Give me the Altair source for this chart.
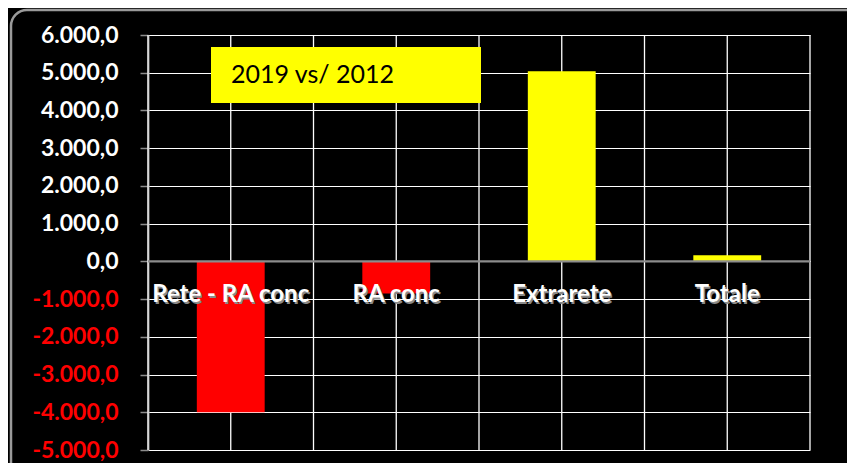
import altair as alt
import pandas as pd

categories = ["Rete - RA conc", "RA conc", "Extrarete", "Totale"]
values = [-4000, -850, 5040, 160]
bar_colors = ["#FF0000", "#FF0000", "#FFFF00", "#FFFF00"]
y_ticks = [-5000, -4000, -3000, -2000, -1000, 0, 1000, 2000, 3000, 4000, 5000, 6000]
title_text = ["2019 vs/ 2012"]

FONT = "Lato"

df = pd.DataFrame({"cat": categories, "value": values, "color": bar_colors})
grid_df = pd.DataFrame({"pos": [i * 0.5 for i in range(2 * len(categories) + 1)]})
box_df = pd.DataFrame({"label": title_text})

xband = alt.X("cat:N", sort=categories, axis=None,
              scale=alt.Scale(paddingInner=0.59, paddingOuter=0.295))

vgrid = alt.Chart(grid_df).mark_rule(color="white", strokeWidth=1.3).encode(
    x=alt.X("pos:Q", axis=None,
            scale=alt.Scale(domain=[0, len(categories)], nice=False, zero=False))
)

label_expr = ("replace(replace(replace(replace(format(datum.value, ',.1f'), '\u2212', '-'), ',', '#'), '.', ','), '#', '.')")

bars = alt.Chart(df).mark_bar().encode(
    x=xband,
    y=alt.Y("value:Q", title=None,
            scale=alt.Scale(domain=[-5000, 6000], nice=False, zero=False),
            axis=alt.Axis(values=y_ticks, tickCount=len(y_ticks) + 2,
                          grid=True, gridColor="white", gridWidth=1.2,
                          domainColor="#8c8c8c", domainWidth=2,
                          tickColor="#8c8c8c", tickWidth=1.5, tickSize=8,
                          labelPadding=22, labelFont=FONT, labelFontSize=23,
                          labelFontWeight="bold", labelExpr=label_expr,
                          labelOverlap=False,
                          labelColor=alt.ExprRef(expr="datum.value < 0 ? '#FF0000' : 'white'"))),
    color=alt.Color("color:N", scale=None),
)

zero_line = alt.Chart(box_df).mark_rule(color="#8c8c8c", strokeWidth=2.2).encode(
    y=alt.datum(0)
)

shadow = alt.Chart(df).mark_text(font=FONT, fontSize=24, fontWeight="bold",
                                 color="#8a8a8a", baseline="middle", dy=35.5, dx=1.5).encode(
    x=xband, y=alt.datum(0), text="cat:N"
)
labels = alt.Chart(df).mark_text(font=FONT, fontSize=24, fontWeight="bold",
                                 color="white", baseline="middle", dy=34).encode(
    x=xband, y=alt.datum(0), text="cat:N"
)

box = alt.Chart(box_df).mark_rect(color="#FFFF00").encode(
    x=alt.value(63), x2=alt.value(333), y=alt.value(12), y2=alt.value(68)
)
box_text = alt.Chart(box_df).mark_text(font=FONT, fontSize=25, color="black",
                                       align="left", baseline="middle").encode(
    x=alt.value(83), y=alt.value(40), text="label:N"
)

border = alt.Chart(box_df).mark_rect(fillOpacity=0, stroke="#9a9a9a", strokeWidth=2.5,
                                     cornerRadius=16).encode(
    x=alt.value(-137), x2=alt.value(760), y=alt.value(-25), y2=alt.value(470)
)

chart = alt.layer(vgrid, bars, zero_line, shadow, labels, box, box_text, border).resolve_scale(
    x="independent"
).properties(
    width=662, height=415,
    autosize=alt.AutoSizeParams(type="none"),
    padding={"left": 140, "top": 27, "right": 37, "bottom": 13},
    background="black",
).configure_view(strokeWidth=0)

chart.save("out.html", embed_options={"renderer": "svg", "actions": False})
